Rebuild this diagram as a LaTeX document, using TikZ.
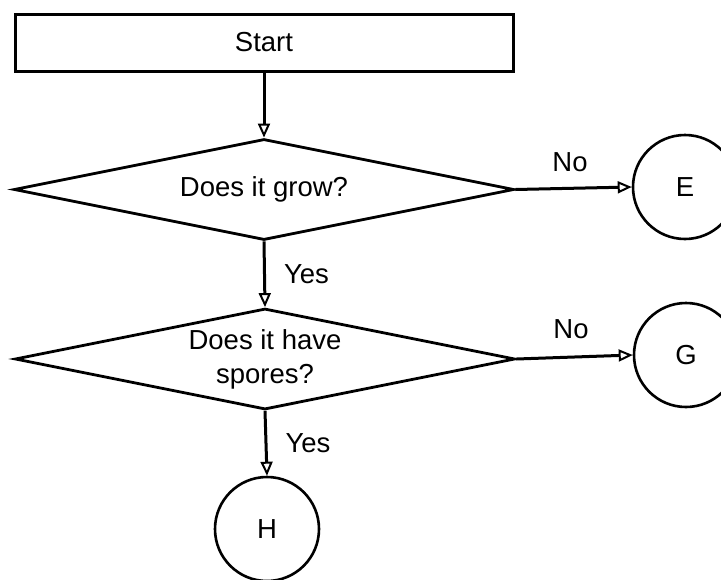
\documentclass[tikz,border=0pt]{standalone}
\usepackage{fontspec}
\setmainfont{Liberation Sans}
\usetikzlibrary{shapes.geometric,arrows.meta}
\begin{document}
\begin{tikzpicture}[x=1pt,y=-1pt,
  every node/.style={font=\fontsize{27.5}{34}\selectfont},
  stepbox/.style={draw, line width=3pt, rectangle, minimum width=498pt, minimum height=57pt, inner sep=0pt},
  decision/.style={draw, line width=2.8pt, diamond, aspect=4.95, minimum width=500pt, minimum height=101pt, inner sep=0pt, align=center},
  endpoint/.style={draw, line width=2.6pt, circle, minimum size=104pt, inner sep=0pt},
  flow/.style={line width=3pt, -{Triangle[open,length=14pt,width=12pt,line width=2pt]}},
  lbl/.style={inner sep=0pt}
]
\useasboundingbox (0,0) rectangle (721,579);
\node[stepbox] (start) at (264,42.5) {Start};
\node[decision] (d1) at (264,189.5) {Does it grow?};
\node[decision] (d2) at (265,359) {Does it have\\spores?};
\node[endpoint] (E) at (685,187) {E};
\node[endpoint] (G) at (686,355) {G};
\node[endpoint] (H) at (267,529) {H};
\draw[flow] (start.south) -- (d1.north);
\draw[flow] (d1.east) -- node[lbl, above=15pt, pos=0.47] (no1) {No} (E.west);
\draw[flow] (d1.south) -- node[lbl, right=18pt] (yes1) {Yes} (d2.north);
\draw[flow] (d2.east) -- node[lbl, above=17pt, pos=0.47] (no2) {No} (G.west);
\draw[flow] (d2.south) -- node[lbl, right=18pt] (yes2) {Yes} (H.north);
\end{tikzpicture}
\end{document}
